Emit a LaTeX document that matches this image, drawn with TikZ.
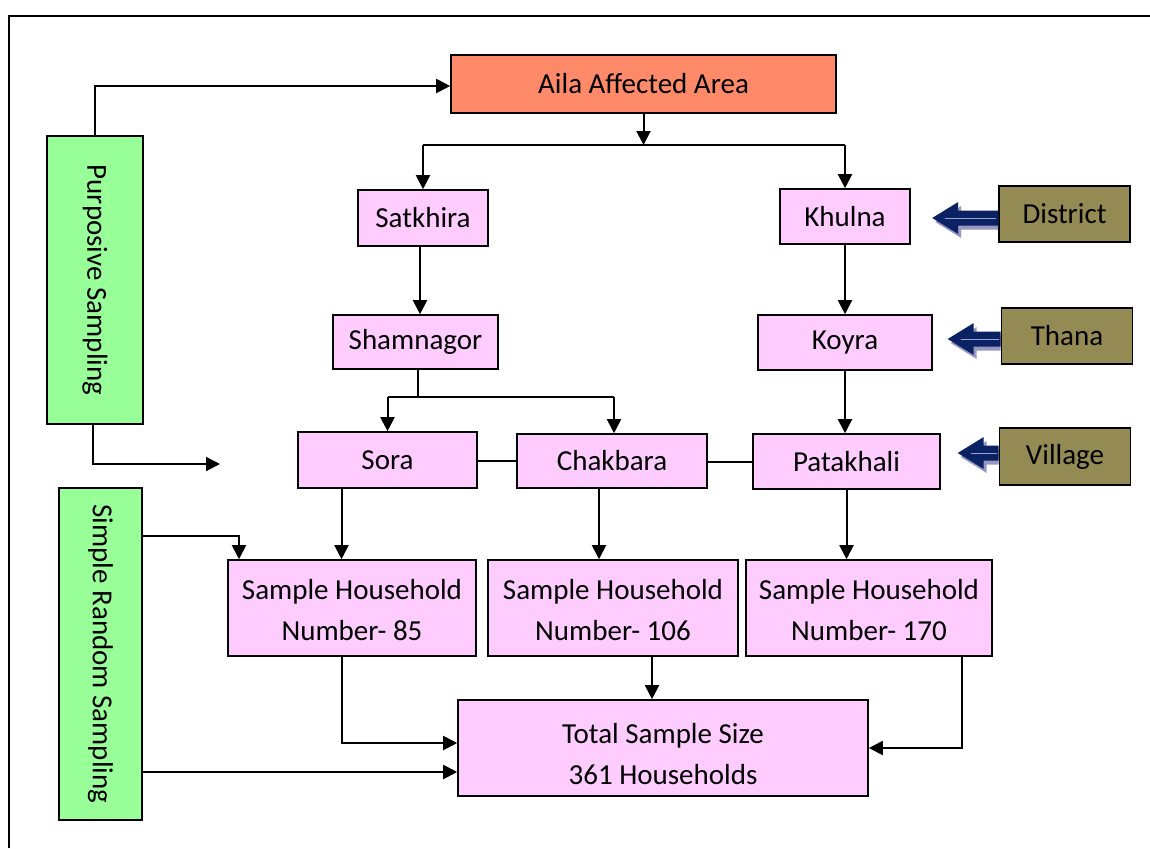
\documentclass[tikz,border=0pt]{standalone}
\usepackage{fontspec}
\usepackage{graphicx}
\setmainfont{Carlito}
\usetikzlibrary{arrows.meta}
\definecolor{pinkbox}{RGB}{255,204,255}
\definecolor{greenbox}{RGB}{153,255,153}
\definecolor{salmonbox}{RGB}{255,138,106}
\definecolor{olivebox}{RGB}{148,138,84}
\definecolor{navyarr}{RGB}{10,34,100}
\definecolor{shadowarr}{RGB}{150,150,192}
\definecolor{innerarr}{RGB}{150,165,205}
\newcommand\blkarrow[3]{%
  \begin{scope}[shift={(#1.west)}]
    \begin{scope}[shift={(0,#3)}]
      \fill[shadowarr] (0,-3.5) -- (-#2+3,-3.5) -- (-#2+3,-12) -- (-#2-23,4) -- (-#2+3,20) -- (-#2+3,11.5) -- (0,11.5) -- cycle;
      \fill[navyarr] (0,-7.5) -- (-#2,-7.5) -- (-#2,-16) -- (-#2-26,0) -- (-#2,16) -- (-#2,7.5) -- (0,7.5) -- cycle;
      \draw[innerarr, line width=0.9pt] (-#2-13,0) -- (-2,0);
    \end{scope}
  \end{scope}}
\newcommand\twolines[3]{\raisebox{#1}[\height][\depth]{\begin{tabular}{@{}c@{}}#2\\#3\end{tabular}}}
\begin{document}
\begin{tikzpicture}[x=1pt,y=-1pt,
  box/.style={draw=black, line width=1.6pt, inner sep=0pt, align=center,
    font=\fontsize{29}{41}\selectfont},
  pk/.style={box, fill=pinkbox},
  gr/.style={box, fill=greenbox},
  ol/.style={box, fill=olivebox, minimum width=131pt, minimum height=56pt},
  arr/.style={line width=2pt, -{Triangle[length=14pt,width=14pt]}},
  ln/.style={line width=2pt}]
\useasboundingbox (0,0) rectangle (1150,848);
\fill[white] (0,0) rectangle (1150,848);
\draw[line width=1.6pt] (9,848) -- (9,16) -- (1150,16);

% nodes
\node[box, fill=salmonbox, minimum width=385pt, minimum height=58pt] (aila) at (643.5,84) {Aila Affected Area};
\node[pk, minimum width=130pt, minimum height=56pt] (satk) at (423,218) {Satkhira};
\node[pk, minimum width=130pt, minimum height=55pt] (khul) at (845,216.5) {Khulna};
\node[ol] (dist) at (1064.5,214) {District};
\node[pk, minimum width=165pt, minimum height=54pt] (sham) at (415.5,342) {Shamnagor};
\node[pk, minimum width=174pt, minimum height=55pt] (koyra) at (845,342.5) {Koyra};
\node[ol] (thana) at (1067,336) {Thana};
\node[pk, minimum width=179pt, minimum height=56pt] (sora) at (387.5,460) {Sora};
\node[pk, minimum width=190pt, minimum height=54pt] (chak) at (612,461) {Chakbara};
\node[pk, minimum width=187pt, minimum height=55pt] (pata) at (846.5,461.5) {Patakhali};
\node[ol, minimum height=57pt] (vill) at (1065,456.5) {Village};
\node[pk, minimum width=248pt, minimum height=96pt] (sh85) at (352,608) {\twolines{-4pt}{Sample Household}{Number- 85}};
\node[pk, minimum width=250pt, minimum height=96pt] (sh106) at (613,608) {\twolines{-4pt}{Sample Household}{Number- 106}};
\node[pk, minimum width=246pt, minimum height=96pt] (sh170) at (869,608) {\twolines{-4pt}{Sample Household}{Number- 170}};
\node[pk, minimum width=410pt, minimum height=96pt] (tot) at (663,748) {\twolines{-8pt}{Total Sample Size}{361 Households}};
\node[gr, minimum width=96pt, minimum height=288pt] (pur) at (95,280) {\rotatebox{-90}{Purposive Sampling}};
\node[gr, minimum width=83pt, minimum height=332pt] (simp) at (100.5,654) {\rotatebox{-90}{Simple Random Sampling}};

% block arrows
\blkarrow{dist}{40}{4}
\blkarrow{thana}{27}{3}
\blkarrow{vill}{15}{-3.5}

% connectors
\coordinate (pfree) at (220,464);
\coordinate (bus) at (643.5,145);
\coordinate (bus2) at (418,397);
\draw[arr] (pur.north) |- ([yshift=-2pt]aila.west);
\draw[arr] ([xshift=-2pt]pur.south) |- (pfree);
\draw[arr] (aila.south) -- (bus);
\draw[ln] (satk.north |- bus) -- (khul.north |- bus);
\draw[arr] (satk.north |- bus) -- (satk.north);
\draw[arr] (khul.north |- bus) -- (khul.north);
\draw[arr] ([xshift=-3pt]satk.south) -- ([xshift=-3pt]satk.south |- sham.north);
\draw[arr] (khul.south) -- (khul.south |- koyra.north);
\draw[ln] ([xshift=2.5pt]sham.south) -- ([xshift=2.5pt]sham.south |- bus2);
\draw[ln] (sora.north |- bus2) -- ([xshift=2pt]chak.north |- bus2);
\draw[arr] (sora.north |- bus2) -- (sora.north);
\draw[arr] ([xshift=2pt]chak.north |- bus2) -- ([xshift=2pt]chak.north);
\draw[arr] (koyra.south) -- (koyra.south |- pata.north);
\draw[ln] (sora.east |- chak.west) -- (chak.west);
\draw[ln] (chak.east |- pata.west) -- (pata.west);
\draw[arr] ([xshift=-46pt]sora.south) -- ([xshift=-46pt]sora.south |- sh85.north);
\draw[arr] ([xshift=-13pt]chak.south) -- ([xshift=-13pt]chak.south |- sh106.north);
\draw[arr] (pata.south) -- (pata.south |- sh170.north);
\draw[arr] ([xshift=-11pt]tot.north |- sh106.south) -- ([xshift=-11pt]tot.north);
\draw[arr] ([xshift=-10pt]sh85.south) |- ([yshift=5pt]tot.west);
\draw[arr] ([xshift=93pt]sh170.south) |- (tot.east);
\draw[arr] ([yshift=118pt]simp.east) -| ([xshift=-113pt]sh85.north);
\draw[arr] ([yshift=-118pt]simp.east) -- ([yshift=-24pt]tot.west);
\end{tikzpicture}
\end{document}
